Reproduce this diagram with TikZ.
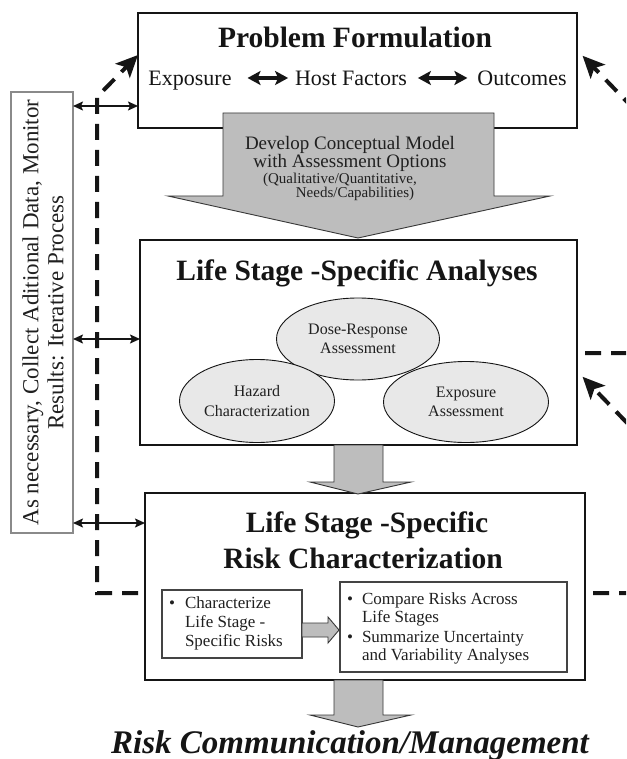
\documentclass[tikz,border=0pt]{standalone}
\usepackage{fontspec}
\setmainfont{Liberation Serif}
\usetikzlibrary{arrows.meta,shapes.geometric}
\definecolor{ink}{HTML}{151515}
\definecolor{txtgray}{HTML}{202020}
\definecolor{arrowgray}{HTML}{BDBDBD}
\definecolor{ellgray}{HTML}{E8E8E8}
\definecolor{sidegray}{HTML}{8A8A8A}
\begin{document}
\begin{tikzpicture}[x=1pt,y=-1pt,
  every node/.style={inner sep=0pt,outer sep=0pt,text=ink},
  mainbox/.style={draw=ink,line width=2pt,fill=white,rectangle},
  sidebox/.style={draw=sidegray,line width=1.2pt,fill=white,rectangle},
  innerbox/.style={draw=ink!80,line width=1.3pt,fill=white,rectangle},
  ell/.style={ellipse,draw=ink,line width=0.9pt,fill=ellgray,align=center,text=txtgray,
    font=\fontsize{16}{19.5}\selectfont},
  blockarrow/.style={fill=arrowgray,draw=ink!85,line width=0.9pt,line join=miter},
  thindbl/.style={{Stealth[length=10pt,width=9pt,inset=2pt]}-{Stealth[length=10pt,width=9pt,inset=2pt]},line width=1.6pt,draw=ink},
  thickdbl/.style={{Stealth[length=13pt,width=14pt,inset=3pt]}-{Stealth[length=13pt,width=14pt,inset=3pt]},line width=3.2pt,draw=ink},
  loopline/.style={draw=ink,line width=4pt,dash pattern=on 16pt off 10pt,
    -{Stealth[length=22pt,width=20pt,inset=5pt]}},
  titlef/.style={font=\fontsize{29.5}{32}\selectfont\bfseries},
  rowf/.style={font=\fontsize{22}{24}\selectfont},
  devf/.style={font=\fontsize{19}{19}\selectfont,text=txtgray},
  smallf/.style={font=\fontsize{15}{14}\selectfont,text=txtgray},
  innerf/.style={font=\fontsize{17}{19}\selectfont,text=txtgray},
  sidef/.style={font=\fontsize{23}{25}\selectfont,text=txtgray},
  riskf/.style={font=\fontsize{33}{36}\selectfont\bfseries\itshape}
]
\path[use as bounding box] (0,0) rectangle (626,759);
\clip (0,0) rectangle (626,759);
\fill[white] (0,0) rectangle (626,759);

% main boxes
\node[mainbox,minimum width=439pt,minimum height=115pt] (pf) at (357.5,70.5) {};
\node[mainbox,minimum width=437pt,minimum height=205pt] (lssa) at (358.5,342.5) {};
\node[mainbox,line width=2.4pt,minimum width=440pt,minimum height=187pt] (rc) at (365,586.5) {};
\node[sidebox,minimum width=62pt,minimum height=441pt] (side) at (42,312.5) {};

% side text
\node[rotate=90,align=center,sidef] (sidetxt) at (43,312.5)
  {As necessary, Collect Aditional Data, Monitor\\Results: Iterative Process};

% Problem formulation content
\node[anchor=base,titlef] (pftitle) at (355,48) {Problem Formulation};
\node[anchor=base,rowf] (expo) at (190,86) {Exposure};
\node[anchor=base,rowf] (host) at (351,86) {Host Factors};
\node[anchor=base,rowf] (outc) at (522,86) {Outcomes};
\draw[thickdbl,shorten <=16pt,shorten >=7pt] (expo.east |- 0,78) -- (host.west |- 0,78);
\draw[thickdbl,shorten <=11pt,shorten >=10pt] (host.east |- 0,78) -- (outc.west |- 0,78);

% big block arrow 1
\draw[blockarrow] (223,113) -- (494,113) -- (494,196) -- (550,196) -- (358,238)
  -- (168,196) -- (223,196) -- cycle;
\node[anchor=base,devf] (dev1) at (350,150) {Develop Conceptual Model};
\node[anchor=base,devf] (dev2) at (350,168) {with Assessment Options};
\node[anchor=base,smallf] (dev3) at (340,184) {(Qualitative/Quantitative,};
\node[anchor=base,smallf] (dev4) at (355,198) {Needs/Capabilities)};

% analyses
\node[anchor=base,titlef] (lssatitle) at (357,280) {Life Stage -Specific Analyses};
\node[ell,minimum width=163pt,minimum height=82pt] (dose) at (358,339) {Dose-Response\\Assessment};
\node[ell,minimum width=155pt,minimum height=83pt] (haz) at (257,401) {Hazard\\Characterization};
\node[ell,minimum width=165pt,minimum height=81pt] (expa) at (466,402) {Exposure\\Assessment};

% block arrow 2
\draw[blockarrow] (334,445) -- (383,445) -- (383,482) -- (411,482) -- (358,494)
  -- (310,482) -- (334,482) -- cycle;

% risk characterization
\node[anchor=base,titlef] (rct1) at (367,532) {Life Stage -Specific};
\node[anchor=base,titlef] (rct2) at (363,568) {Risk Characterization};
\node[innerbox,minimum width=140pt,minimum height=68pt] (inl) at (232,624) {};
\node[innerbox,minimum width=227pt,minimum height=90pt] (inr) at (453.5,627) {};
\node[anchor=base west,innerf] (bl1) at (169,608) {•};
\node[anchor=base west,innerf] (tl1) at (185,608) {Characterize};
\node[anchor=base west,innerf] (tl2) at (185,627) {Life Stage -};
\node[anchor=base west,innerf] (tl3) at (185,646) {Specific Risks};
\node[anchor=base west,innerf] (br1) at (347,604) {•};
\node[anchor=base west,innerf] (tr1) at (362,604) {Compare Risks Across};
\node[anchor=base west,innerf] (tr2) at (362,622) {Life Stages};
\node[anchor=base west,innerf] (br2) at (347,642) {•};
\node[anchor=base west,innerf] (tr3) at (362,642) {Summarize Uncertainty};
\node[anchor=base west,innerf] (tr4) at (362,660) {and Variability Analyses};
\draw[blockarrow] (302,623) -- (328,623) -- (328,617) -- (339,630) -- (328,643)
  -- (328,637) -- (302,637) -- cycle;

% block arrow 3
\draw[blockarrow] (334,680) -- (383,680) -- (383,715) -- (411,715) -- (358,727)
  -- (310,715) -- (334,715) -- cycle;
\node[anchor=base,riskf] (risk) at (350,753) {Risk Communication/Management};

% left thin double arrows
\draw[thindbl] (side.east |- 0,106) -- (pf.west |- 0,106);
\draw[thindbl] (side.east |- 0,339) -- (lssa.west |- 0,339);
\draw[thindbl] (side.east |- 0,523) -- (rc.west |- 0,523);

% dashed loops
\coordinate (lb1) at (97,593);
\coordinate (lb2) at (97,97);
\draw[loopline,shorten <=7pt] (rc.west |- 0,593) -- (lb1) -- (lb2) -- (pf.west |- 0,55);
\coordinate (rb1) at (630,593);
\coordinate (rb2) at (630,426);
\draw[loopline,shorten <=8pt,shorten >=8pt] (rc.east |- 0,593) -- (rb1) -- (rb2) -- (lssa.east |- 0,371);
\coordinate (rb3) at (630,353);
\coordinate (rb4) at (630,105);
\draw[loopline,shorten <=8pt,shorten >=8pt] (lssa.east |- 0,353) -- (rb3) -- (rb4) -- (pf.east |- 0,50);
\end{tikzpicture}
\end{document}
